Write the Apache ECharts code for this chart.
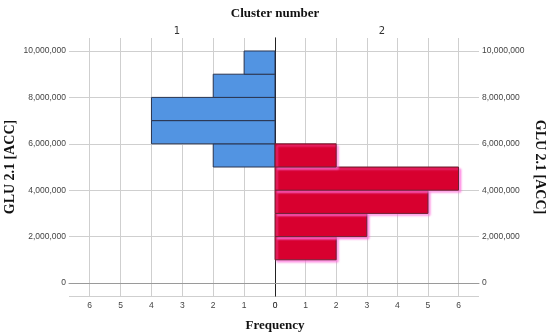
<!DOCTYPE html>
<html><head><meta charset="utf-8">
<script src="https://cdn.jsdelivr.net/npm/echarts@6/dist/echarts.min.js"></script>
<style>html,body{margin:0;padding:0;background:#fff}#c{width:550px;height:334px}</style>
</head><body><div id="c"></div>
<script>
const binLower = [1000000, 2000000, 3000000, 4000000, 5000000, 6000000, 7000000, 8000000, 9000000];
const binWidth = 1000000;
const cluster1Freq = [0, 0, 0, 0, 2, 4, 4, 2, 1];
const cluster2Freq = [2, 3, 5, 6, 2, 0, 0, 0, 0];
const panelNames = ['1', '2'];
const yMin = -560000, yMax = 10560000;
const xMax = 6.67;

function toData(freq) {
  return binLower.map((b, i) => [b, b + binWidth, freq[i]]).filter(d => d[2] > 0);
}
function makeRender(style) {
  return function (params, api) {
    const lo = api.value(0), hi = api.value(1), n = api.value(2);
    const p0 = api.coord([0, lo]);
    const p1 = api.coord([n, hi]);
    return {
      type: 'rect',
      shape: { x: Math.min(p0[0], p1[0]), y: Math.min(p0[1], p1[1]), width: Math.abs(p1[0] - p0[0]), height: Math.abs(p1[1] - p0[1]) },
      style: style
    };
  };
}
const fmtY = v => (Math.abs(v % 2000000) < 1 && v >= 0 && v <= 10000000) ? v.toLocaleString('en-US') : '';
const gridLine = { show: true, showMaxLine: false, lineStyle: { color: '#cfcfcf', width: 1 } };
const labelFont = { fontFamily: 'Liberation Sans', fontSize: 8.5, color: '#444' };
const titleFont = { fontFamily: 'Liberation Serif', fontWeight: 'bold', fontSize: 13, color: '#111' };
const axisTitleFont = { fontFamily: 'Liberation Serif', fontWeight: 'bold', fontSize: 14, color: '#111' };

const chart = echarts.init(document.getElementById('c'));
chart.setOption({
  animation: false,
  title: [
    { text: 'Cluster number', left: 'center', top: 2, textStyle: titleFont },
    { text: panelNames[0], left: 172, top: 21, textAlign: 'center', textStyle: { fontFamily: 'DejaVu Sans', fontSize: 10, color: '#333', fontWeight: 'normal' } },
    { text: panelNames[1], left: 377, top: 21, textAlign: 'center', textStyle: { fontFamily: 'DejaVu Sans', fontSize: 10, color: '#333', fontWeight: 'normal' } },
    { text: 'Frequency', left: 'center', top: 314, textStyle: titleFont }
  ],
  grid: [
    { left: 69, top: 38, width: 206, height: 258 },
    { left: 275, top: 38, width: 204, height: 258 }
  ],
  xAxis: [
    { gridIndex: 0, type: 'value', inverse: true, min: 0, max: xMax, interval: 1,
      axisLine: { show: true, lineStyle: { color: '#9a9a9a' } }, axisTick: { show: false },
      splitLine: gridLine, axisLabel: Object.assign({ margin: 5, showMaxLabel: false, formatter: v => Number.isInteger(v) ? String(v) : '' }, labelFont) },
    { gridIndex: 1, type: 'value', min: 0, max: xMax, interval: 1,
      axisLine: { show: true, lineStyle: { color: '#9a9a9a' } }, axisTick: { show: false },
      splitLine: gridLine, axisLabel: Object.assign({ margin: 5, showMaxLabel: false, formatter: v => Number.isInteger(v) ? String(v) : '' }, labelFont) }
  ],
  yAxis: [
    { gridIndex: 0, type: 'value', position: 'left', min: yMin, max: yMax, splitNumber: 5,
      name: 'GLU 2.1 [ACC]', nameLocation: 'middle', nameRotate: 90, nameGap: 52,
      nameTextStyle: axisTitleFont,
      axisLine: { show: true, lineStyle: { color: '#9a9a9a' } }, axisTick: { show: false },
      splitLine: gridLine, axisLabel: Object.assign({ margin: 3, formatter: fmtY }, labelFont) },
    { gridIndex: 1, type: 'value', position: 'right', min: yMin, max: yMax, splitNumber: 5,
      name: 'GLU 2.1 [ACC]', nameLocation: 'middle', nameRotate: -90, nameGap: 54,
      nameTextStyle: axisTitleFont,
      axisLine: { show: true, lineStyle: { color: '#9a9a9a' } }, axisTick: { show: false },
      splitLine: gridLine, axisLabel: Object.assign({ margin: 3, formatter: fmtY }, labelFont) },
    { gridIndex: 1, type: 'value', position: 'left', min: yMin, max: yMax, splitNumber: 5,
      axisLine: { show: true, lineStyle: { color: '#222', width: 1 } }, axisTick: { show: false },
      splitLine: { show: false }, axisLabel: { show: false } }
  ],
  series: [
    { type: 'custom', xAxisIndex: 0, yAxisIndex: 0, data: toData(cluster1Freq),
      renderItem: makeRender({ fill: '#5294e2', stroke: '#2a3550', lineWidth: 1 }) },
    { type: 'custom', xAxisIndex: 1, yAxisIndex: 1, data: toData(cluster2Freq),
      renderItem: makeRender({ fill: '#d8002f', stroke: '#6a2232', lineWidth: 1,
        shadowColor: 'rgba(255,110,220,0.7)', shadowOffsetX: 2, shadowOffsetY: 2, shadowBlur: 2 }) }
  ]
});
</script></body></html>
